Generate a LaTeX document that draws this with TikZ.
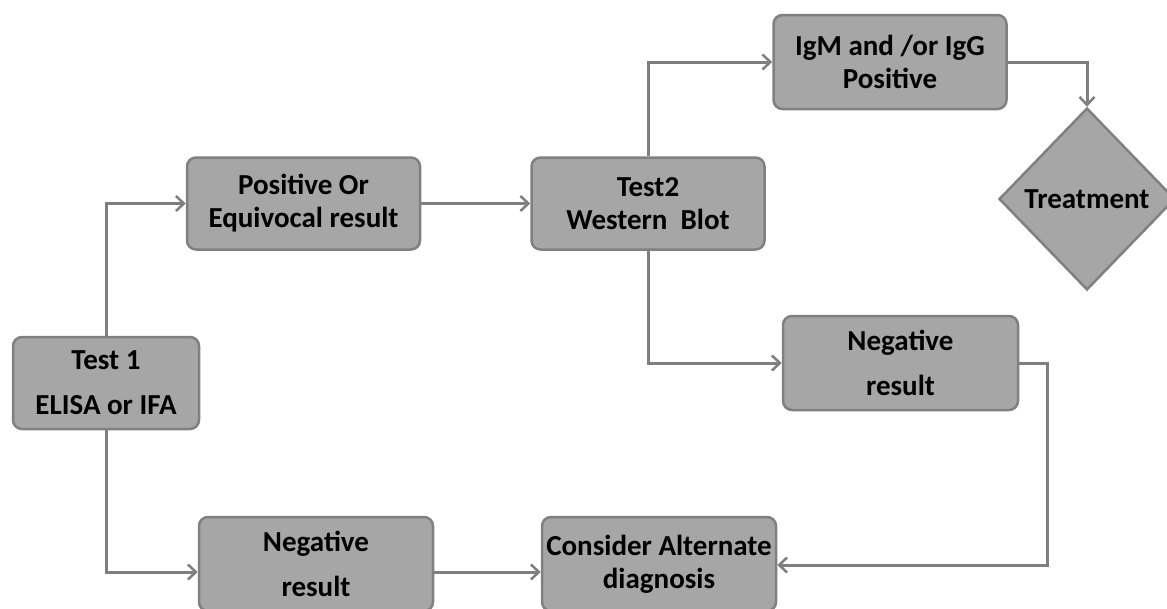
\documentclass[tikz,border=0pt]{standalone}
\usepackage{fontspec}
\setmainfont{Carlito}
\usetikzlibrary{arrows.meta,shapes.geometric}
\definecolor{boxfill}{HTML}{A6A6A6}
\definecolor{boxline}{HTML}{808080}
\definecolor{arrowc}{HTML}{7F7F7F}
\tikzset{
  box/.style={draw=boxline, line width=2.5pt, fill=boxfill, rounded corners=9pt,
    minimum width=233pt, minimum height=92pt, inner sep=0pt, align=center,
    font=\bfseries\fontsize{29}{33}\selectfont},
  link/.style={draw=arrowc, line width=3pt, rounded corners=0pt,
    -{Straight Barb[length=8pt,width=15pt,line width=2.5pt]}},
}
\begin{document}
\begin{tikzpicture}[x=1pt,y=-1pt]
\useasboundingbox (0,0) rectangle (1167,608);
\node[box, minimum width=186pt] (t1) at (106,383) {Test 1\\[12pt]ELISA or IFA};
\node[box] (pos) at (303.5,203.5) {Positive Or\\Equivocal result};
\node[box] (t2) at (648,203.5) {Test2\\Western\ \ Blot};
\node[box, minimum height=94pt] (igm) at (890,62) {IgM and /or IgG\\Positive};
\node[draw=boxline, line width=2.5pt, fill=boxfill, shape=diamond, minimum width=176pt,
  minimum height=182pt, inner sep=0pt, font=\bfseries\fontsize{29}{33}\selectfont] (tr) at (1087,199) {Treatment};
\node[box, minimum width=235pt, minimum height=94pt] (neg2) at (900.5,363) {Negative\\[12pt]result};
\node[box, minimum width=234pt, minimum height=94pt] (neg1) at (316,564) {Negative\\[12pt]result};
\node[box, minimum width=234pt, minimum height=94pt] (cons) at (659,564) {Consider Alternate\\diagnosis};
\coordinate (c1) at (106,203.5);
\coordinate (c2) at (106,572);
\coordinate (c3) at (648,62);
\coordinate (c4) at (648,363);
\coordinate (c6) at (1047,363);
\coordinate (c7) at (1047,565);
\draw[link] (t1.north) -- (c1) -- (pos.west);
\draw[link] (t1.south) -- (c2) -- (c2 -| neg1.west);
\draw[link] (pos.east) -- (t2.west);
\draw[link] (t2.north) -- (c3) -- (igm.west);
\draw[link] (t2.south) -- (c4) -- (neg2.west);
\draw[link] (igm.east) -- (igm.east -| tr.north) -- (tr.north);
\draw[link] (neg2.east |- c6) -- (c6) -- (c7) -- (c7 -| cons.east);
\draw[link] (neg1.east |- c2) -- (cons.west |- c2);
\end{tikzpicture}
\end{document}
